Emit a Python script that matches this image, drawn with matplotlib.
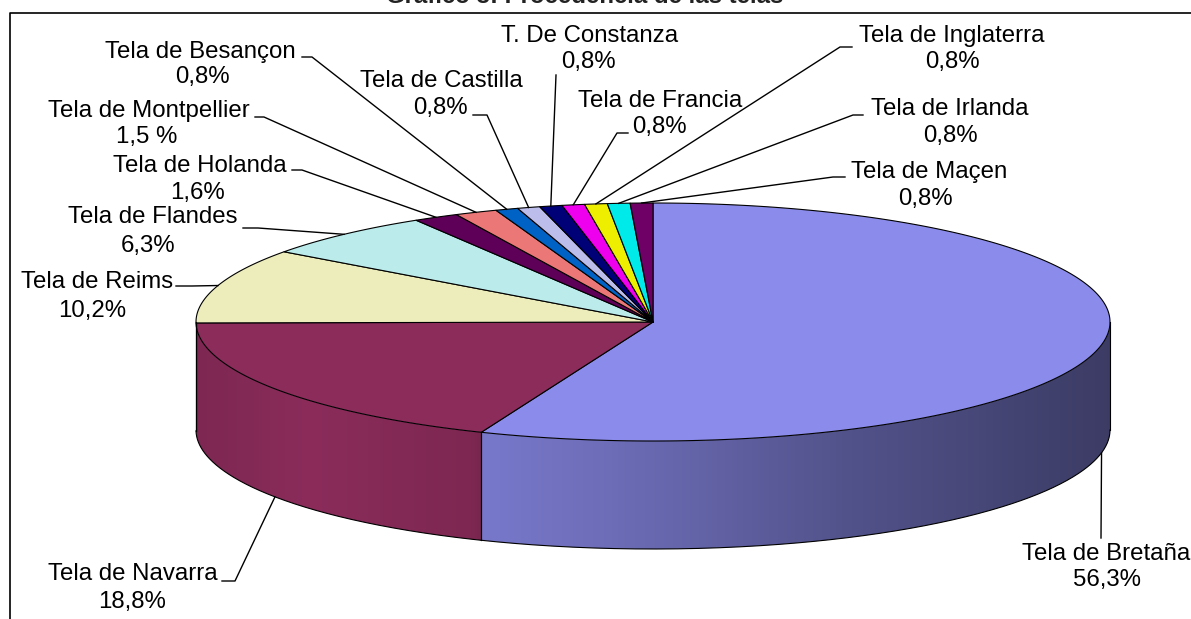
import numpy as np
import matplotlib
matplotlib.use("Agg")
import matplotlib.pyplot as plt
from matplotlib.patches import Polygon
from matplotlib.colors import to_rgb

# ---------------- data ----------------
categories = ["Tela de Bretaña", "Tela de Navarra", "Tela de Reims", "Tela de Flandes",
              "Tela de Holanda", "Tela de Montpellier", "Tela de Besançon",
              "Tela de Castilla", "T. De Constanza", "Tela de Francia",
              "Tela de Inglaterra", "Tela de Irlanda", "Tela de Maçen"]
values = [56.3, 18.8, 10.2, 6.3, 1.6, 1.5, 0.8, 0.8, 0.8, 0.8, 0.8, 0.8, 0.8]
pct_labels = ["56,3%", "18,8%", "10,2%", "6,3%", "1,6%", "1,5 %", "0,8%",
              "0,8%", "0,8%", "0,8%", "0,8%", "0,8%", "0,8%"]
colors = ["#8B8BEB", "#8B2C5B", "#EDEDBB", "#BBEBEB", "#5E0058", "#EC7777",
          "#0062C4", "#BDBDEB", "#000077", "#EE00EE", "#EEEE00", "#00EAEA", "#6E0066"]
title = "Gráfico 3: Procedencia de las telas"

# ---------------- layout (pixel space) ----------------
W, H = 1191, 619
cx, cy, a, b, depth = 653.0, 322.0, 457.0, 119.0, 108.0

# label layout: name (x, baseline), pct (x, baseline), leader points from text side
label_layout = [
    dict(name=(1106, 560), pct=(1107, 586), lead=[(1101, 538)], end="bottom"),
    dict(name=(133, 580), pct=(132, 608), lead=[(222, 581), (235, 581)], end="bottom"),
    dict(name=(97, 288), pct=(92, 317), lead=[(176, 286), (192, 286)], end="top"),
    dict(name=(153, 223), pct=(148, 252), lead=[(243, 228), (258, 228)], end="top"),
    dict(name=(200, 172), pct=(197, 199), lead=[(292, 170), (302, 170)], end="top"),
    dict(name=(149, 117), pct=(147, 143), lead=[(255, 117), (264, 117)], end="top"),
    dict(name=(200, 58), pct=(202, 83), lead=[(302, 57), (312, 57)], end="top"),
    dict(name=(441, 87), pct=(440, 114), lead=[(473, 115), (487, 115)], end="top"),
    dict(name=(590, 42), pct=(588, 68), lead=[(556, 75)], end="top"),
    dict(name=(660, 107), pct=(659, 133), lead=[(628, 133), (617, 133)], end="top"),
    dict(name=(952, 42), pct=(952, 68), lead=[(852, 47), (840, 47)], end="top"),
    dict(name=(950, 115), pct=(950, 142), lead=[(863, 115), (853, 115)], end="top"),
    dict(name=(929, 178), pct=(925, 205), lead=[(845, 177), (833, 177)], end="top"),
]

plt.rcParams['font.family'] = ['Liberation Sans', 'DejaVu Sans']
FS = 24 * 72 / 100.0

fig = plt.figure(figsize=(W / 100, H / 100), dpi=100)
ax = fig.add_axes([0, 0, 1, 1])


def ell(theta, dy=0.0):
    return cx + a * np.sin(theta), cy - b * np.cos(theta) + dy


vals = np.array(values, dtype=float)
frac = vals / vals.sum()
bounds = np.concatenate([[0.0], np.cumsum(frac)]) * 2 * np.pi

# side shading as a function of horizontal position
shade_u = [-1.0, -0.75, -0.4, -0.38, 0.0, 0.4, 1.0]
shade_f = [0.90, 1.0, 0.9, 0.87, 0.75, 0.6, 0.43]

# ---- side walls (front half only), gradient images clipped to the wall ----
for i, (t1, t2) in enumerate(zip(bounds[:-1], bounds[1:])):
    s1, s2 = max(t1, np.pi / 2), min(t2, 3 * np.pi / 2)
    if s2 <= s1:
        continue
    base = np.array(to_rgb(colors[i]))
    ts = np.linspace(s1, s2, 300)
    tx, ty = ell(ts)
    bx, by = ell(ts[::-1], depth)
    poly = Polygon(list(zip(tx, ty)) + list(zip(bx, by)), closed=True,
                   facecolor='none', edgecolor='none', zorder=1)
    ax.add_patch(poly)
    x0, x1 = tx.min() - 2, tx.max() + 2
    y0, y1 = min(ty.min(), by.min()) - 2, max(ty.max(), by.max()) + 2
    xs = np.linspace(x0, x1, 400)
    fac = np.interp((xs - cx) / a, shade_u, shade_f)
    row = np.clip(base[None, :] * fac[:, None], 0, 1)
    img = np.repeat(row[None, :, :], 2, axis=0)
    im = ax.imshow(img, extent=[x0, x1, y1, y0], origin='upper', aspect='auto',
                   interpolation='bilinear', zorder=1)
    im.set_clip_path(poly)
    ax.plot(bx, by, color='black', lw=0.8, zorder=3)
    for t in (s1, s2):
        xe, ye = ell(t)
        ax.plot([xe, xe], [ye, ye + depth], color='black', lw=0.8, zorder=3)

# ---- top face ----
for i, (t1, t2) in enumerate(zip(bounds[:-1], bounds[1:])):
    n = max(4, int((t2 - t1) / (2 * np.pi) * 720))
    ts = np.linspace(t1, t2, n)
    xs, ys = ell(ts)
    pts = [(cx, cy)] + list(zip(xs, ys))
    ax.add_patch(Polygon(pts, closed=True, facecolor=colors[i], edgecolor='black',
                         lw=0.8, zorder=2, joinstyle='round'))

# ---- labels and leader lines ----
for i, lay in enumerate(label_layout):
    mid = (bounds[i] + bounds[i + 1]) / 2
    ex, ey = ell(mid, depth if lay["end"] == "bottom" else 0.0)
    pts = lay["lead"] + [(ex, ey)]
    ax.plot([p[0] for p in pts], [p[1] for p in pts], color='black', lw=1.0, zorder=4)
    ax.text(lay["name"][0], lay["name"][1], categories[i], fontsize=FS, ha='center',
            va='baseline', color='black', zorder=5)
    ax.text(lay["pct"][0], lay["pct"][1], pct_labels[i], fontsize=FS, ha='center',
            va='baseline', color='black', zorder=5)

# ---- frame and (clipped, as in the reference) title ----
ax.plot([10, 10, W + 5], [H + 5, 13, 13], color='black', lw=1.2, zorder=6, clip_on=False)
ax.text(585, 3, title, fontsize=FS, fontweight='bold', ha='center', va='baseline',
        color='#222222', zorder=6)

ax.set_xlim(0, W)
ax.set_ylim(H, 0)
ax.axis('off')

fig.savefig("out.png", dpi=100)
